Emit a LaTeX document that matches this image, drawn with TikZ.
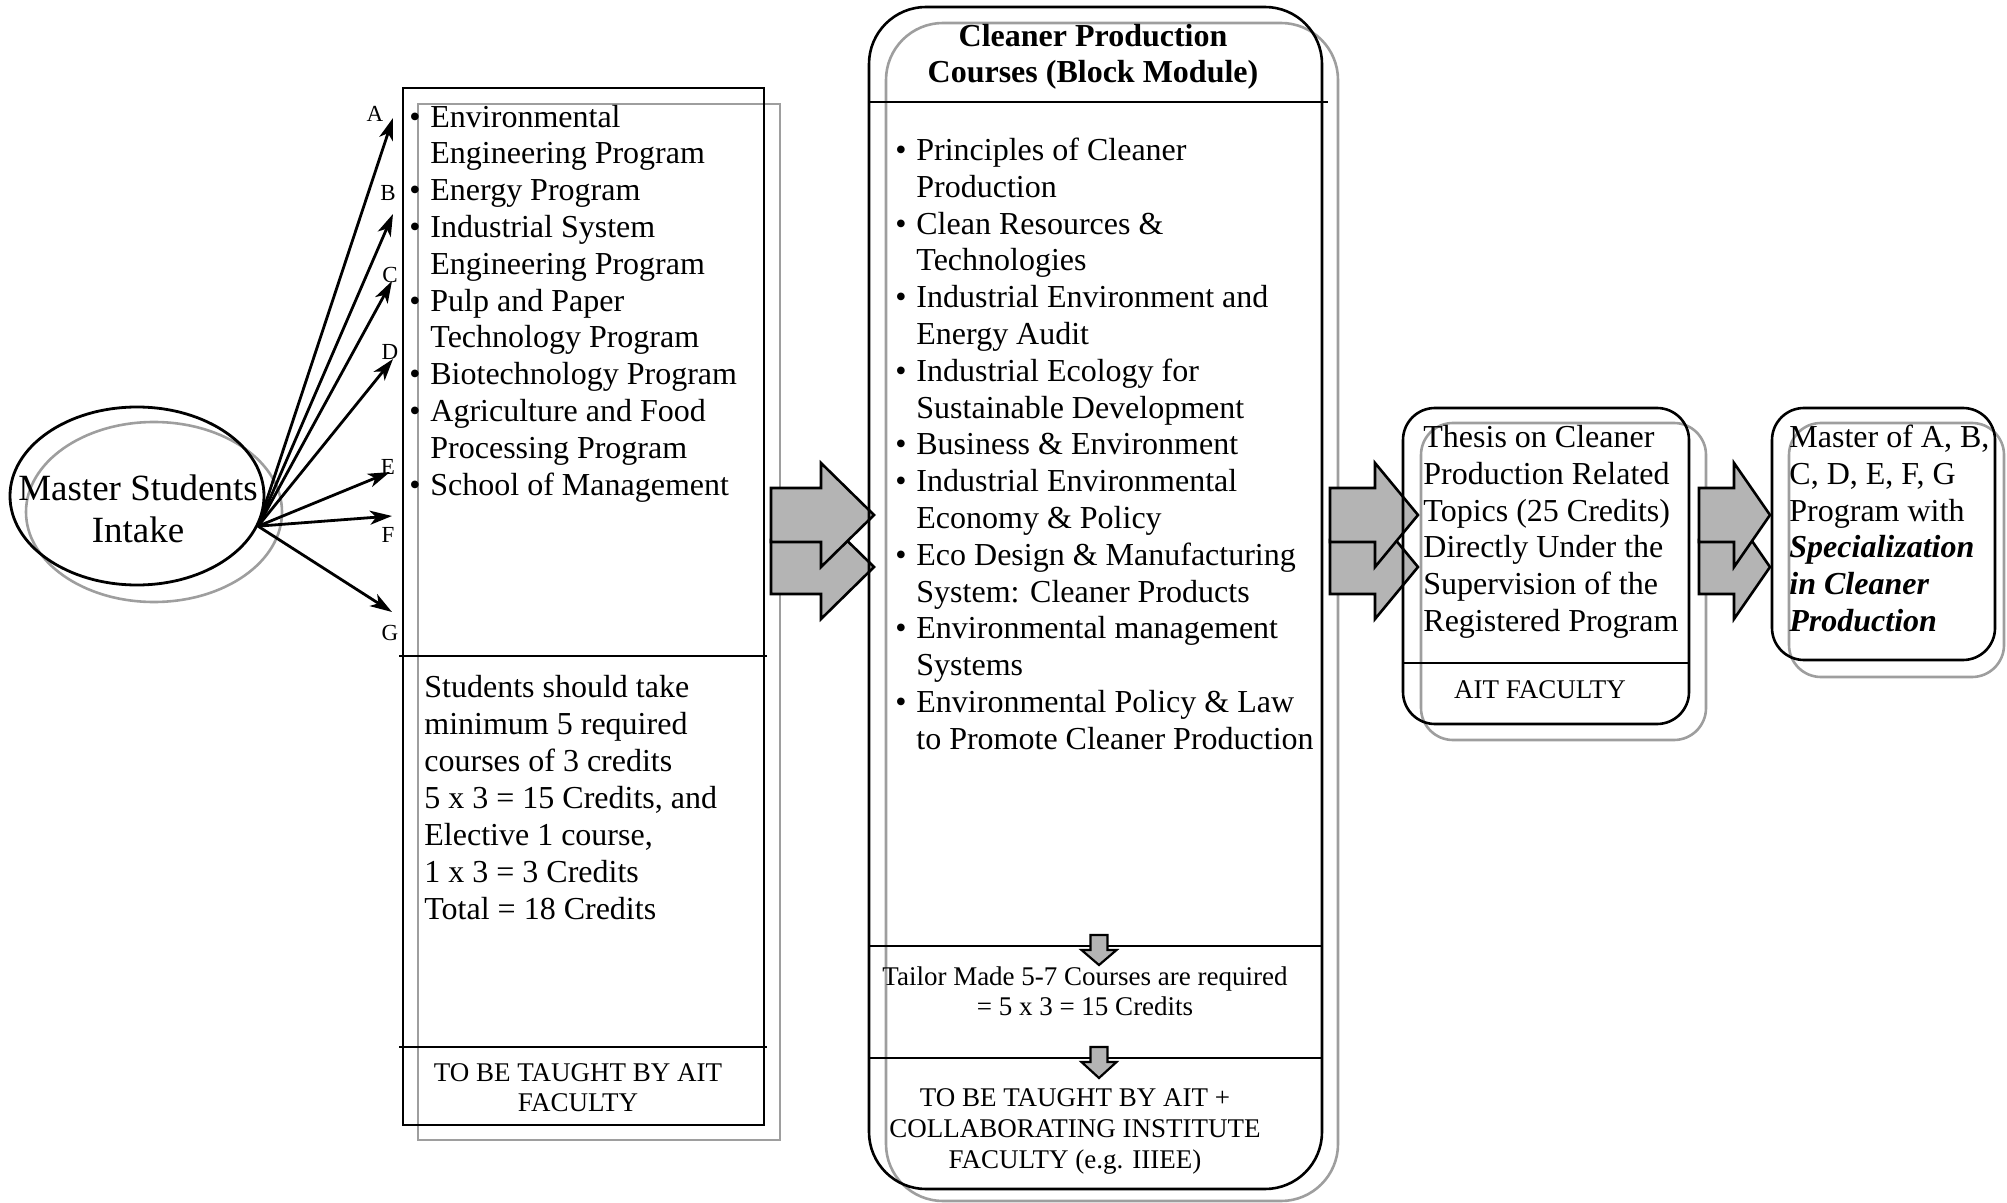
\documentclass[tikz,border=0pt]{standalone}
\usepackage{fontspec}
\setmainfont{Liberation Serif}
\usetikzlibrary{arrows.meta,shapes.geometric}
\definecolor{shadowgray}{RGB}{158,158,158}
\definecolor{arrowfill}{RGB}{180,180,180}
\newcommand\cpbul{\makebox[10.5pt][l]{\textbullet}}
\newcommand\cpind{\hspace*{10.5pt}}
\newcommand\cpBlockArrow[4]{%
  \draw[blockarrow] (#1,#4-27) -- (#2,#4-27) -- (#2,#4-52) -- (#3,#4) -- (#2,#4+52) -- (#2,#4+27) -- (#1,#4+27) -- cycle;}
\newcommand\cpDownArrow[4]{%
  \draw[smallarrow] (#1-8.5,#2) -- (#1+8.5,#2) -- (#1+8.5,#3) -- (#1+17.5,#3) -- (#1,#4) -- (#1-17.5,#3) -- (#1-8.5,#3) -- cycle;}
\begin{document}
\begin{tikzpicture}[x=0.5pt,y=-0.5pt,
  frontbox/.style={draw=black, line width=1.3pt, inner sep=0pt, outer sep=0pt, anchor=north west},
  backbox/.style={draw=shadowgray, line width=1.3pt, inner sep=0pt, outer sep=0pt, anchor=north west},
  divider/.style={draw=black, line width=1.3pt},
  blockarrow/.style={draw=black, line width=1.3pt, fill=arrowfill, line join=miter},
  smallarrow/.style={draw=black, line width=1.1pt, fill=arrowfill, line join=miter},
  thinarrow/.style={draw=black, line width=1.4pt, -{Stealth[length=11pt,width=7pt,inset=3pt]}},
  bodytext/.style={font=\fontsize{16}{18.4}\selectfont, inner sep=0pt, align=left, anchor=base west},
  smalltext/.style={font=\fontsize{13.5}{15.4}\selectfont, inner sep=0pt, align=center, anchor=base},
  lbl/.style={font=\fontsize{11.5}{13}\selectfont, inner sep=0pt}
]
\useasboundingbox (0,0) rectangle (2007,1203);

% ---- intake ellipse
\node[ellipse, draw=shadowgray, line width=1.3pt, minimum width=128pt, minimum height=90pt, inner sep=0pt] (intakeshadow) at (154,512) {};
\node[ellipse, draw=black, line width=1.4pt, minimum width=127pt, minimum height=89pt, inner sep=0pt] (intake) at (137,496) {};
\node[font=\fontsize{18.5}{21}\selectfont, align=center, inner sep=0pt] (intaketext) at (138,509) {Master Students\\Intake};

% ---- arrows A-G
\coordinate (tA) at (393,118);
\coordinate (tB) at (393,214);
\coordinate (tC) at (392,281);
\coordinate (tD) at (393,359);
\coordinate (tE) at (390,472);
\coordinate (tF) at (392,516);
\coordinate (tG) at (392,612);
\foreach \t in {A,B,C,D,E,F,G}{\draw[thinarrow] (intake.-14) -- (t\t);}
\node[lbl] (lA) at (375,114) {A};
\node[lbl] (lB) at (388,193) {B};
\node[lbl] (lC) at (390,275) {C};
\node[lbl] (lD) at (390,352) {D};
\node[lbl] (lE) at (388,467) {E};
\node[lbl] (lF) at (388,535) {F};
\node[lbl] (lG) at (390,633) {G};

% ---- programs box
\node[backbox, minimum width=181pt, minimum height=518pt] (progshadow) at (418,104) {};
\node[frontbox, minimum width=180.5pt, minimum height=518.5pt] (prog) at (403,88) {};
\draw[divider] (399,656) -- (767,656);
\draw[divider] (399,1047) -- (767,1047);
% anchor = baseline of the LAST line
\node[bodytext] (proglist) at (409,495) {%
\cpbul Environmental\\
\cpind Engineering Program\\
\cpbul Energy Program\\
\cpbul Industrial System\\
\cpind Engineering Program\\
\cpbul Pulp and Paper\\
\cpind Technology Program\\
\cpbul Biotechnology Program\\
\cpbul Agriculture and Food\\
\cpind Processing Program\\
\cpbul School of Management};
\node[bodytext, font=\fontsize{16}{18.5}\selectfont] (progcredits) at (424,919.5) {%
Students should take\\
minimum 5 required\\
courses of 3 credits\\
5 x 3 = 15 Credits, and\\
Elective 1 course,\\
1 x 3 = 3 Credits\\
Total = 18 Credits};
\node[smalltext, font=\fontsize{13.5}{15}\selectfont] (progfaculty) at (578,1111.5) {TO BE TAUGHT BY AIT\\FACULTY};

% ---- block arrows programs -> courses
\cpBlockArrow{771}{821}{874}{567}
\cpBlockArrow{771}{821}{874}{515}

% ---- courses box
\draw[shadowgray, line width=1.3pt, rounded corners=28.5pt] (886,23) rectangle (1338,1201);
\node[frontbox, rounded corners=28.5pt, minimum width=226.5pt, minimum height=591pt] (courses) at (869,7) {};
\draw[divider] (869,102) -- (1328,102);
\draw[divider] (869,946) -- (1322,946);
\draw[divider] (869,1058) -- (1322,1058);
\node[smalltext, font=\bfseries\fontsize{16}{18}\selectfont] (coursestitle) at (1093,82.5) {Cleaner Production\\Courses (Block Module)};
\node[bodytext] (courselist) at (895,749.3) {%
\cpbul Principles of Cleaner\\
\cpind Production\\
\cpbul Clean Resources \&\\
\cpind Technologies\\
\cpbul Industrial Environment and\\
\cpind Energy Audit\\
\cpbul Industrial Ecology for\\
\cpind Sustainable Development\\
\cpbul Business \& Environment\\
\cpbul Industrial Environmental\\
\cpind Economy \& Policy\\
\cpbul Eco Design \& Manufacturing\\
\cpind System: Cleaner Products\\
\cpbul Environmental management\\
\cpind Systems\\
\cpbul Environmental Policy \& Law\\
\cpind to Promote Cleaner Production};
\cpDownArrow{1099}{935}{950}{965}
\cpDownArrow{1099}{1047}{1062}{1078}
\node[smalltext, font=\fontsize{13.5}{15}\selectfont] (tailor) at (1085,1015.5) {Tailor Made 5-7 Courses are required\\= 5 x 3 = 15 Credits};
\node[smalltext, font=\fontsize{13.5}{15.5}\selectfont] (collab) at (1075,1168.5) {TO BE TAUGHT BY AIT +\\COLLABORATING INSTITUTE\\FACULTY (e.g. IIIEE)};

% ---- block arrows courses -> thesis
\cpBlockArrow{1330}{1375}{1418}{567}
\cpBlockArrow{1330}{1375}{1418}{515}

% ---- thesis box
\draw[shadowgray, line width=1.3pt, rounded corners=16pt] (1421,423) rectangle (1706,740);
\node[frontbox, rounded corners=16pt, minimum width=143pt, minimum height=158pt] (thesis) at (1403,408) {};
\draw[divider] (1403,663) -- (1689,663);
\node[bodytext] (thesistext) at (1423,631.5) {%
Thesis on Cleaner\\
Production Related\\
Topics (25 Credits)\\
Directly Under the\\
Supervision of the\\
Registered Program};
\node[smalltext] (aitfaculty) at (1540,698.5) {AIT FACULTY};

% ---- block arrows thesis -> master
\cpBlockArrow{1699}{1734}{1770}{567}
\cpBlockArrow{1699}{1734}{1770}{515}

% ---- master box
\draw[shadowgray, line width=1.3pt, rounded corners=16pt] (1789,423) rectangle (2004,677);
\node[frontbox, rounded corners=16pt, minimum width=111.5pt, minimum height=126pt] (master) at (1772,408) {};
\node[bodytext] (mastertext) at (1789,631.5) {%
Master of A, B,\\
C, D, E, F, G\\
Program with\\
\textbf{\textit{Specialization}}\\
\textbf{\textit{in Cleaner}}\\
\textbf{\textit{Production}}};
\end{tikzpicture}
\end{document}
